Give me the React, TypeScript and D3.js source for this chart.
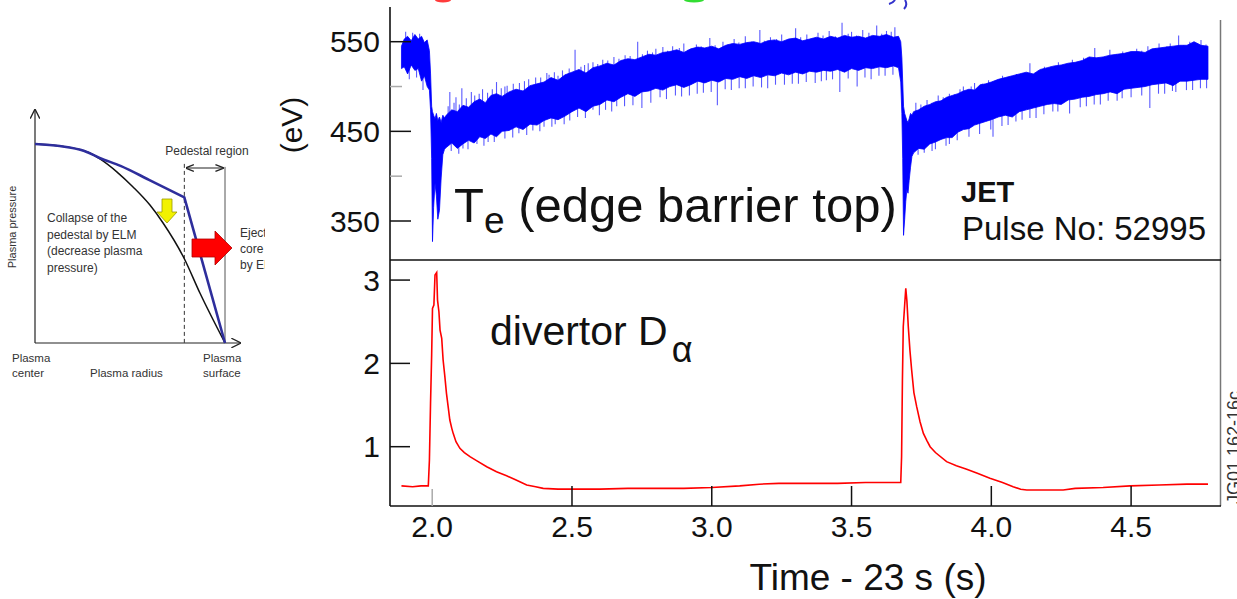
import React from 'react';
import * as d3 from 'd3';

const W = 1237;
const H = 599;
const FONT = '"Liberation Sans", Arial, Helvetica, sans-serif';

// ---------- axis ticks ----------
const timeTicks = [2.0, 2.5, 3.0, 3.5, 4.0, 4.5];
const teTicks = [350, 450, 550];
const teMinorTicks = [400, 500];
const daTicks = [1, 2, 3];

// ---------- Te (edge barrier top), eV : [time, low, high] of the dense trace ----------
const teBand: [number, number, number][] = [
  [1.890, 520, 545], [1.900, 522, 553], [1.912, 514, 556], [1.925, 524, 551], [1.938, 518, 558],
  [1.950, 520, 553], [1.962, 506, 556], [1.972, 512, 549], [1.982, 500, 552], [1.990, 496, 540],
  [1.994, 474, 515], [1.998, 420, 478], [2.001, 327, 472], [2.005, 365, 468], [2.010, 392, 464],
  [2.015, 378, 470], [2.020, 352, 462], [2.026, 362, 466], [2.032, 398, 460], [2.038, 424, 468],
  [2.044, 430, 465],
  [2.050, 432, 468], [2.070, 437, 474], [2.090, 431, 472], [2.110, 436, 479], [2.130, 440, 477],
  [2.150, 437, 483], [2.170, 444, 486], [2.190, 442, 482], [2.210, 447, 490], [2.230, 444, 492],
  [2.250, 450, 489], [2.275, 451, 494], [2.300, 455, 497], [2.325, 452, 495], [2.350, 458, 501],
  [2.375, 457, 503], [2.400, 462, 505], [2.425, 465, 510], [2.450, 463, 507], [2.475, 467, 513],
  [2.500, 472, 516], [2.525, 476, 519], [2.550, 472, 515], [2.575, 478, 521], [2.600, 480, 523],
  [2.625, 485, 526], [2.650, 483, 524], [2.675, 488, 529], [2.700, 492, 531], [2.725, 489, 530],
  [2.750, 494, 533], [2.775, 495, 536], [2.800, 498, 535], [2.825, 496, 538], [2.850, 500, 539],
  [2.875, 502, 541], [2.900, 499, 538], [2.925, 502, 542], [2.950, 506, 544], [2.975, 504, 543],
  [3.000, 507, 545], [3.025, 505, 542], [3.050, 509, 546], [3.075, 508, 548], [3.100, 511, 547],
  [3.125, 509, 549], [3.150, 512, 550], [3.175, 510, 548], [3.200, 513, 551], [3.225, 512, 552],
  [3.250, 515, 550], [3.275, 513, 553], [3.300, 516, 554], [3.325, 514, 551], [3.350, 517, 553],
  [3.375, 516, 555], [3.400, 518, 553], [3.425, 517, 556], [3.450, 519, 554], [3.475, 516, 557],
  [3.500, 520, 555], [3.525, 518, 556], [3.550, 521, 554], [3.575, 520, 557], [3.600, 522, 556],
  [3.625, 521, 558], [3.650, 523, 555], [3.668, 521, 556],
  [3.676, 505, 550], [3.680, 470, 532], [3.683, 420, 505], [3.686, 334, 478], [3.690, 352, 470],
  [3.694, 372, 466], [3.698, 385, 462], [3.702, 381, 460], [3.706, 395, 464], [3.711, 410, 470],
  [3.716, 422, 468],
  [3.722, 426, 472], [3.740, 431, 474], [3.760, 430, 478], [3.780, 436, 480], [3.800, 438, 483],
  [3.820, 441, 484], [3.840, 443, 488], [3.860, 443, 490], [3.880, 449, 492], [3.900, 452, 495],
  [3.920, 453, 497], [3.940, 457, 496], [3.960, 459, 502], [3.980, 461, 503], [4.000, 463, 505],
  [4.025, 466, 508], [4.050, 468, 510], [4.075, 466, 512], [4.100, 472, 514], [4.125, 474, 516],
  [4.150, 476, 514], [4.175, 478, 519], [4.200, 480, 521], [4.225, 481, 523], [4.250, 480, 524],
  [4.275, 485, 526], [4.300, 486, 527], [4.325, 488, 529], [4.350, 489, 533], [4.375, 491, 532],
  [4.400, 492, 533], [4.425, 494, 535], [4.450, 492, 536], [4.475, 497, 537], [4.500, 498, 539],
  [4.525, 499, 539], [4.550, 500, 538], [4.575, 502, 542], [4.600, 503, 543], [4.625, 504, 544],
  [4.650, 501, 545], [4.675, 506, 546], [4.700, 506, 546], [4.725, 507, 550], [4.750, 508, 546],
  [4.775, 508, 545],
];

// isolated noise excursions of Te : [time, eV]
const teSpikes: [number, number][] = [
  [1.905, 561], [1.930, 560], [1.955, 559], [1.967, 496], [1.918, 508], [1.944, 510],
  [2.063, 494], [2.085, 488], [2.106, 498], [2.140, 494], [2.180, 497], [2.230, 505], [2.260, 500],
  [2.290, 503], [2.330, 506], [2.370, 510], [2.410, 515], [2.450, 512], [2.490, 520], [2.511, 541],
  [2.545, 524], [2.575, 527], [2.610, 530], [2.650, 533], [2.690, 535], [2.735, 550], [2.770, 540],
  [2.800, 542], [2.825, 544], [2.860, 545], [2.900, 548], [2.945, 547], [2.993, 554], [3.040, 550],
  [3.080, 553], [3.120, 556], [3.172, 563], [3.210, 555], [3.250, 558], [3.300, 565], [3.340, 558],
  [3.380, 560], [3.420, 562], [3.466, 571], [3.500, 561], [3.540, 563], [3.590, 568], [3.625, 562],
  [3.655, 566],
  [2.057, 478], [2.078, 482], [2.097, 480], [2.122, 487], [2.152, 490], [2.168, 492], [2.198, 493],
  [2.215, 497], [2.247, 498], [2.268, 501], [2.312, 504], [2.345, 508], [2.388, 510], [2.418, 513],
  [2.437, 516], [2.466, 518], [2.532, 522], [2.558, 526], [2.592, 525], [2.628, 529], [2.668, 531],
  [2.708, 534], [2.752, 536], [2.788, 538], [2.842, 540], [2.884, 543], [2.915, 541], [2.962, 545],
  [3.012, 546], [3.058, 547], [3.097, 549], [3.142, 550], [3.188, 551], [3.232, 553], [3.268, 552],
  [3.318, 555], [3.362, 554], [3.398, 557], [3.442, 556], [3.488, 559], [3.518, 557], [3.562, 560],
  [3.608, 559], [3.642, 561],
  [2.110, 431], [2.160, 436], [2.200, 438], [2.260, 442], [2.310, 448], [2.360, 451], [2.400, 455],
  [2.440, 458], [2.520, 466], [2.575, 474], [2.620, 474], [2.660, 478], [2.750, 476], [2.815, 488],
  [2.870, 490], [2.920, 490], [2.970, 493], [3.020, 479], [3.070, 496], [3.120, 498], [3.200, 498],
  [3.260, 502], [3.310, 503], [3.370, 504], [3.410, 507], [3.458, 494], [3.520, 500], [3.570, 508],
  [3.620, 512],
  [2.068, 428], [2.095, 425], [2.128, 430], [2.185, 434], [2.222, 438], [2.288, 443], [2.338, 446],
  [2.385, 450], [2.428, 455], [2.472, 458], [2.492, 462], [2.548, 465], [2.598, 468], [2.642, 472],
  [2.688, 478], [2.718, 479], [2.782, 482], [2.838, 486], [2.892, 489], [2.948, 492], [2.998, 494],
  [3.048, 497], [3.098, 498], [3.148, 500], [3.178, 499], [3.228, 502], [3.288, 503], [3.338, 505],
  [3.392, 506], [3.432, 508], [3.488, 509], [3.548, 510], [3.598, 512], [3.648, 513],
  [3.730, 482], [3.770, 485], [3.810, 490], [3.850, 492], [3.900, 500], [3.940, 504], [3.990, 507],
  [4.040, 512], [4.090, 514], [4.138, 526], [4.190, 522], [4.240, 527], [4.290, 530], [4.330, 532],
  [4.370, 543], [4.424, 541], [4.470, 539], [4.520, 542], [4.560, 545], [4.600, 548], [4.640, 548],
  [4.670, 557], [4.710, 550], [4.750, 552],
  [3.748, 480], [3.788, 482], [3.828, 488], [3.868, 491], [3.888, 497], [3.928, 500], [3.968, 503],
  [4.018, 507], [4.062, 510], [4.112, 515], [4.168, 518], [4.212, 522], [4.262, 524], [4.312, 527],
  [4.352, 530], [4.398, 533], [4.448, 536], [4.492, 538], [4.538, 540], [4.588, 543], [4.628, 545],
  [4.688, 546], [4.738, 548], [4.768, 547],
  [3.760, 426], [3.800, 430], [3.850, 436], [3.920, 444], [4.006, 444], [4.060, 457], [4.110, 463],
  [4.160, 465], [4.220, 472], [4.280, 470], [4.340, 478], [4.390, 480], [4.450, 484], [4.500, 488],
  [4.567, 476], [4.620, 492], [4.660, 494], [4.720, 496], [4.770, 498],
  [3.738, 424], [3.788, 428], [3.838, 434], [3.878, 440], [3.958, 447], [3.998, 452], [4.038, 456],
  [4.088, 461], [4.138, 465], [4.188, 469], [4.238, 472], [4.318, 477], [4.368, 480], [4.418, 484],
  [4.468, 487], [4.538, 490], [4.598, 492], [4.648, 495], [4.698, 496], [4.748, 498],
];

// ---------- divertor D-alpha : [time, signal] ----------
const dAlpha: [number, number][] = [
  [1.890, 0.53], [1.930, 0.52], [1.960, 0.53], [1.986, 0.53], [1.990, 0.84], [1.994, 1.52],
  [1.998, 2.10], [2.001, 2.66], [2.006, 2.70], [2.010, 3.06], [2.016, 3.09], [2.019, 2.76],
  [2.024, 2.62], [2.028, 2.40], [2.034, 2.30], [2.039, 2.04], [2.045, 1.85], [2.051, 1.64],
  [2.057, 1.48], [2.063, 1.32], [2.070, 1.22], [2.075, 1.16], [2.085, 1.06], [2.099, 0.98],
  [2.115, 0.93], [2.135, 0.88], [2.160, 0.83], [2.195, 0.76], [2.230, 0.70], [2.266, 0.65],
  [2.300, 0.60], [2.338, 0.54], [2.370, 0.52], [2.397, 0.50], [2.450, 0.49], [2.500, 0.49],
  [2.600, 0.49], [2.700, 0.50], [2.800, 0.50], [2.900, 0.50], [3.000, 0.51], [3.100, 0.53],
  [3.170, 0.55], [3.240, 0.56], [3.350, 0.56], [3.450, 0.56], [3.550, 0.57], [3.650, 0.57],
  [3.676, 0.57], [3.679, 0.88], [3.682, 1.80], [3.685, 2.44], [3.690, 2.70], [3.694, 2.90],
  [3.698, 2.75], [3.703, 2.44], [3.709, 2.15], [3.715, 1.92], [3.723, 1.65], [3.733, 1.48],
  [3.745, 1.30], [3.757, 1.16], [3.770, 1.07], [3.781, 1.00], [3.800, 0.93], [3.840, 0.82],
  [3.875, 0.77], [3.912, 0.73], [3.950, 0.68], [3.995, 0.62], [4.040, 0.57], [4.078, 0.52],
  [4.105, 0.49], [4.127, 0.48], [4.200, 0.48], [4.257, 0.48], [4.300, 0.50], [4.400, 0.51],
  [4.497, 0.53], [4.600, 0.54], [4.700, 0.55], [4.775, 0.55],
];

// ---------- schematic pedestal diagram : [normalized radius, normalized pressure] ----------
const pedestalProfile: [number, number][] = [
  [0, 1], [0.13, 0.99], [0.26, 0.965], [0.34, 0.93], [0.45, 0.89], [0.6, 0.82], [0.786, 0.732], [1, 0],
];
const collapsedProfile: [number, number][] = [
  [0, 1], [0.132, 0.99], [0.289, 0.955], [0.342, 0.925], [0.432, 0.859], [0.516, 0.784],
  [0.605, 0.693], [0.674, 0.603], [0.784, 0.427], [0.868, 0.251], [1, 0],
];
const pedestalEdge = 0.786;
const collapseLines = ['Collapse of the', 'pedestal by ELM', '(decrease plasma', 'pressure)'];
const ejectLines = ['Ejected', 'core', 'by ELM'];

export default function App() {
  // main chart scales
  const x = d3.scaleLinear().domain([1.849, 4.818]).range([390, 1220]);
  const yTe = d3.scaleLinear().domain([306.5, 588.7]).range([260, 7]);
  const yDa = d3.scaleLinear().domain([0.288, 3.241]).range([506, 260]);

  const bandArea = d3
    .area<[number, number, number]>()
    .x((d) => x(d[0]))
    .y0((d) => yTe(d[1]))
    .y1((d) => yTe(d[2]));

  const bisect = d3.bisector((d: [number, number, number]) => d[0]).center;
  const spikeLines = teSpikes.map(([t, v], i) => {
    const b = teBand[bisect(teBand, t)];
    const mid = (b[1] + b[2]) / 2;
    return (
      <line key={i} x1={x(t)} x2={x(t)} y1={yTe(mid)} y2={yTe(v)} stroke="#0000ff" strokeWidth={1.1} strokeOpacity={0.65} />
    );
  });

  const daLine = d3
    .line<[number, number]>()
    .x((d) => x(d[0]))
    .y((d) => yDa(d[1]));

  // diagram scales
  const r = d3.scaleLinear().domain([0, 1]).range([35, 225]);
  const p = d3.scaleLinear().domain([0, 1]).range([343, 144]);
  const profLine = d3
    .line<[number, number]>()
    .x((d) => r(d[0]))
    .y((d) => p(d[1]))
    .curve(d3.curveMonotoneX);
  const blueCurve = profLine(pedestalProfile.slice(0, -1)) + `L${r(1)},${p(0)}`;
  const blackCurve = profLine(collapsedProfile);

  const diagFont = { fontFamily: FONT, fontSize: 12, fill: '#333' };

  return (
    <svg
      width={W}
      height={H}
      viewBox={`0 0 ${W} ${H}`}
      style={{ position: 'absolute', left: 0, top: 0, background: '#fff' }}
    >
      <defs>
        <clipPath id="diagClip">
          <rect x={0} y={0} width={265} height={H} />
        </clipPath>
        <marker id="arrHead" viewBox="0 0 10 10" refX={9} refY={5} markerWidth={7} markerHeight={7} orient="auto-start-reverse">
          <path d="M0,1 L10,5 L0,9" fill="none" stroke="#222" strokeWidth={1.6} />
        </marker>
        <marker id="axHead" viewBox="0 0 10 10" refX={9} refY={5} markerWidth={8} markerHeight={8} orient="auto">
          <path d="M0,0 L10,5 L0,10" fill="none" stroke="#222" strokeWidth={1.4} />
        </marker>
      </defs>

      {/* ---------------- left schematic ---------------- */}
      <g clipPath="url(#diagClip)">
        <line x1={r(0)} y1={p(0)} x2={r(0)} y2={110} stroke="#222" strokeWidth={1.2} markerEnd="url(#axHead)" />
        <line x1={r(0)} y1={p(0)} x2={240} y2={p(0)} stroke="#222" strokeWidth={1.2} markerEnd="url(#axHead)" />
        <line x1={r(pedestalEdge)} x2={r(pedestalEdge)} y1={p(0.9)} y2={p(0)} stroke="#333" strokeWidth={1} strokeDasharray="4,3" />
        <line x1={r(1)} x2={r(1)} y1={p(0.885)} y2={p(0)} stroke="#555" strokeWidth={1} />
        <line x1={r(pedestalEdge) + 2} x2={r(1) - 2} y1={168} y2={168} stroke="#222" strokeWidth={1.2} markerStart="url(#arrHead)" markerEnd="url(#arrHead)" />
        <path d={blackCurve ?? ''} fill="none" stroke="#111" strokeWidth={1.5} />
        <path d={blueCurve} fill="none" stroke="#2e2e9c" strokeWidth={2.6} />
        <text x={207} y={155} textAnchor="middle" {...diagFont}>Pedestal region</text>
        {/* yellow arrow */}
        <path d="M162,199 L172,199 L172,212 L177,212 L167,223 L157,212 L162,212 Z" fill="#f2f200" stroke="#9a9a00" strokeWidth={0.8} />
        {/* red arrow */}
        <path d="M192,239 L215,239 L215,231 L232,248 L215,265 L215,257 L192,257 Z" fill="#ff0000" stroke="#b00000" strokeWidth={0.8} />
        {collapseLines.map((s, i) => (
          <text key={s} x={47} y={222 + i * 16.5} {...diagFont}>{s}</text>
        ))}
        {ejectLines.map((s, i) => (
          <text key={s} x={240} y={237 + i * 16} {...diagFont}>{s}</text>
        ))}
        <text transform="translate(16,227) rotate(-90)" textAnchor="middle" {...diagFont} fontSize={11}>Plasma pressure</text>
        <text x={12} y={362} {...diagFont} fontSize={11.5}>Plasma</text>
        <text x={12} y={377} {...diagFont} fontSize={11.5}>center</text>
        <text x={90} y={377} {...diagFont} fontSize={11.5}>Plasma radius</text>
        <text x={203} y={362} {...diagFont} fontSize={11.5}>Plasma</text>
        <text x={203} y={377} {...diagFont} fontSize={11.5}>surface</text>
      </g>

      {/* cut-off title remnants at the very top */}
      <ellipse cx={443} cy={0} rx={8} ry={2.5} fill="#ff3b3b" />
      <ellipse cx={694} cy={0} rx={10} ry={2.5} fill="#33dd33" />
      <path d="M889,4 Q893,3 895,0" fill="none" stroke="#3333cc" strokeWidth={2} />
      <path d="M905,0 Q908,5 904,9" fill="none" stroke="#3333cc" strokeWidth={2} />

      {/* ---------------- Te panel ---------------- */}
      <path d={bandArea(teBand) ?? ''} fill="#0000ff" stroke="#0000ff" strokeWidth={0.8} />
      {spikeLines}

      {/* ---------------- D-alpha panel ---------------- */}
      <path d={daLine(dAlpha) ?? ''} fill="none" stroke="#ff0000" strokeWidth={1.6} />

      {/* frame */}
      <line x1={390} x2={390} y1={7} y2={506} stroke="#111" strokeWidth={1.6} />
      <line x1={1220.5} x2={1220.5} y1={20} y2={506} stroke="#777" strokeWidth={1.5} />
      <line x1={390} x2={1221} y1={260} y2={260} stroke="#111" strokeWidth={1.6} />
      <line x1={390} x2={1221} y1={506} y2={506} stroke="#111" strokeWidth={1.6} />

      {/* Te ticks */}
      {teTicks.map((v) => (
        <g key={v}>
          <line x1={390} x2={411} y1={yTe(v)} y2={yTe(v)} stroke="#111" strokeWidth={1.5} />
          <text x={380} y={yTe(v) + 10.5} textAnchor="end" fontFamily={FONT} fontSize={30} fill="#111">{v}</text>
        </g>
      ))}
      {teMinorTicks.map((v) => (
        <line key={v} x1={390} x2={402} y1={yTe(v)} y2={yTe(v)} stroke="#aaa" strokeWidth={1.5} />
      ))}
      <text transform="translate(302,125) rotate(-90)" textAnchor="middle" fontFamily={FONT} fontSize={30} fill="#111">(eV)</text>

      {/* D-alpha ticks */}
      {daTicks.map((v) => (
        <g key={v}>
          <line x1={390} x2={410} y1={yDa(v)} y2={yDa(v)} stroke="#111" strokeWidth={1.5} />
          <text x={380} y={yDa(v) + 10.5} textAnchor="end" fontFamily={FONT} fontSize={30} fill="#111">{v}</text>
        </g>
      ))}

      {/* time axis */}
      {timeTicks.map((t, i) => (
        <g key={t}>
          <line x1={x(t)} x2={x(t)} y1={i === 0 ? 489 : 486} y2={506} stroke={i === 0 ? '#aaa' : '#111'} strokeWidth={1.5} />
          <text x={x(t)} y={537} textAnchor="middle" fontFamily={FONT} fontSize={30} fill="#111">{t.toFixed(1)}</text>
        </g>
      ))}
      <text x={868} y={590} textAnchor="middle" fontFamily={FONT} fontSize={37} fill="#111">Time - 23 s (s)</text>

      {/* annotations */}
      <text x={454} y={222} fontFamily={FONT} fontSize={49} fill="#111">
        T<tspan fontSize={37} dy={11}>e</tspan><tspan dy={-11}> (edge barrier top)</tspan>
      </text>
      <text x={961} y={202} fontFamily={FONT} fontSize={29} fontWeight="bold" fill="#111">JET</text>
      <text x={962} y={240} fontFamily={FONT} fontSize={33} fill="#111">Pulse No: 52995</text>
      <text x={490} y={345} fontFamily={FONT} fontSize={41} fill="#111">
        divertor D<tspan fontSize={36} dx={4} dy={17}>α</tspan>
      </text>
      <text transform="translate(1240,504) rotate(-90)" fontFamily={FONT} fontSize={18} fill="#333">JG01.162-16c</text>
    </svg>
  );
}
